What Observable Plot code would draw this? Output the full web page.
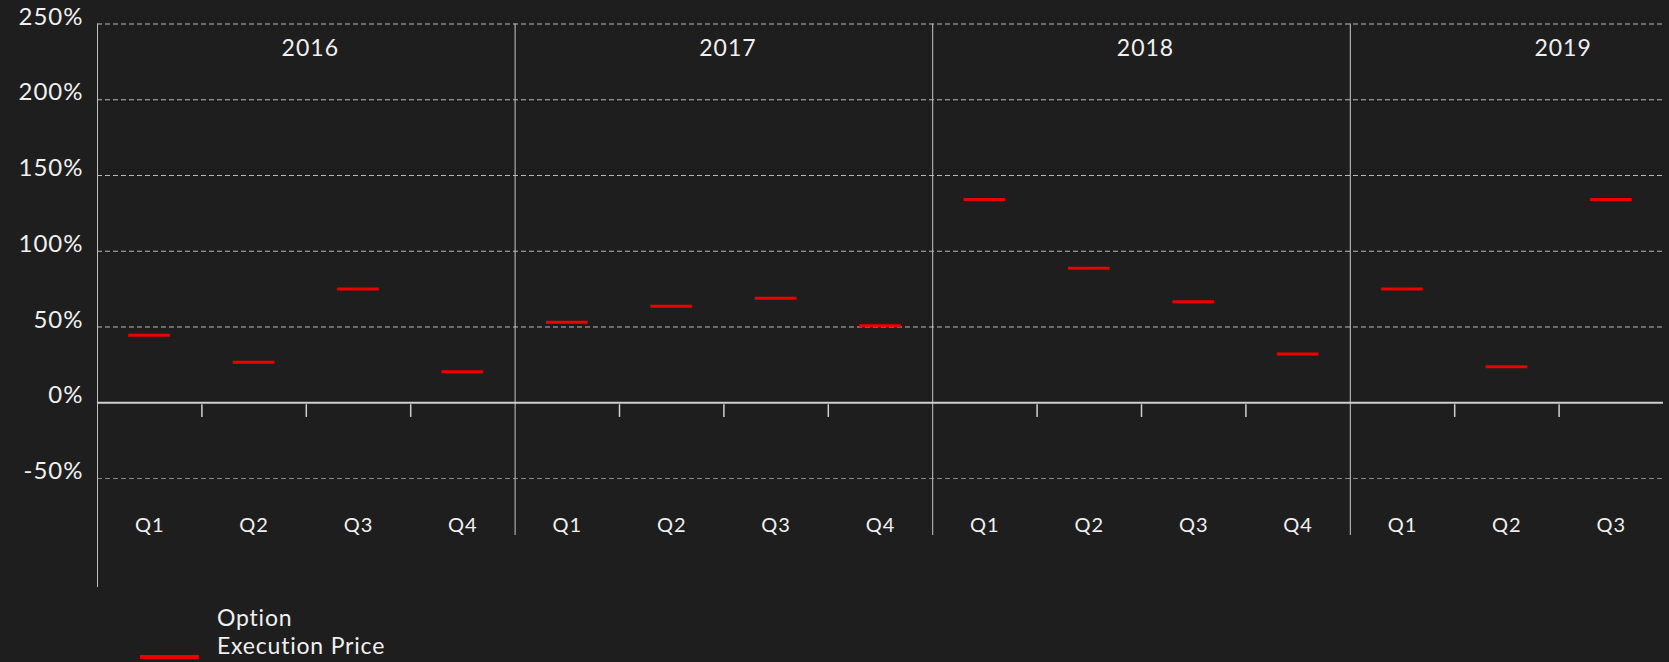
<!DOCTYPE html>
<html>
<head>
<meta charset="utf-8">
<script src="https://cdn.jsdelivr.net/npm/d3@7"></script>
<script src="https://cdn.jsdelivr.net/npm/@observablehq/plot@0.6"></script>
<style>
  html, body { margin: 0; padding: 0; background: #1e1e1e; }
  #chart { width: 1669px; }
  #legend { position: relative; width: 1669px; height: 62px; font-family: Lato, sans-serif; color: #f0f0f0; }
  #legend .swatch { position: absolute; left: 140px; top: 55px; width: 59px; height: 4px; background: #ee0000; }
  #legend .label { position: absolute; left: 217px; font-size: 23px; line-height: 28px; height: 28px; letter-spacing: 0.8px; white-space: nowrap; }
</style>
</head>
<body>
<div id="chart"></div>
<div id="legend"><div class="swatch"></div><div class="label" style="top:3px">Option</div><div class="label" style="top:31px">Execution Price</div></div>
<script>
// ---- data ----
const years = ["2016", "2017", "2018", "2019"];
const periodYears = ["2016","2016","2016","2016","2017","2017","2017","2017","2018","2018","2018","2018","2019","2019","2019"];
const periodQuarters = ["Q1","Q2","Q3","Q4","Q1","Q2","Q3","Q4","Q1","Q2","Q3","Q4","Q1","Q2","Q3"];
const executionPrice = [44.6, 26.8, 75.1, 20.4, 53.2, 63.7, 69.0, 50.9, 134.2, 88.7, 66.7, 32.1, 75.1, 23.7, 134.2];
const yTicks = [-50, 0, 50, 100, 150, 200, 250];
const seriesName = "Option Execution Price";

// ---- derived tables ----
const periods = periodYears.map((y, i) => ({i, year: y, quarter: periodQuarters[i], value: executionPrice[i]}));
const yearStart = years.map(y => periodYears.indexOf(y));
const dividers = yearStart.filter(i => i > 0);
const quarterTicks = periods.filter(p => p.i > 0 && periodYears[p.i - 1] === p.year).map(p => p.i);
const yMin = yTicks[0], yMax = yTicks[yTicks.length - 1];

const textColor = "#f0f0f0";
const chart = Plot.plot({
  width: 1669,
  height: 600,
  marginLeft: 97,
  marginRight: 6,
  marginTop: 23.5,
  marginBottom: 122,
  style: {background: "#1e1e1e", color: textColor, fontFamily: "Lato, sans-serif", letterSpacing: "1px"},
  x: {type: "linear", domain: [0, periods.length], axis: null},
  y: {domain: [yMin, yMax], axis: null},
  marks: [
    // gridlines
    Plot.ruleY(yTicks.filter(d => d > 0), {stroke: "#b8b8b8", strokeDasharray: "5,3", strokeWidth: 1}),
    Plot.ruleY(yTicks.filter(d => d < 0), {stroke: "#858585", strokeDasharray: "5,3", strokeWidth: 1}),
    // left axis line
    Plot.ruleX([0], {y1: yMax, y2: -122, stroke: "#bdbdbd", strokeWidth: 1}),
    // year dividers
    Plot.ruleX(dividers, {y1: yMax, y2: -87.6, stroke: "#c8c8c8", strokeWidth: 1}),
    // zero line
    Plot.ruleY([0], {stroke: "#d0d0d0", strokeWidth: 2}),
    // quarter ticks below zero line
    Plot.ruleX(quarterTicks, {y1: -1.3, y2: -9.7, stroke: "#cfcfcf", strokeWidth: 1.5}),
    // series
    Plot.ruleY(periods, {y: "value", x1: d => d.i + 0.3, x2: d => d.i + 0.7, stroke: "#ee0000", strokeWidth: 3, title: d => `${d.year} ${d.quarter}: ${d.value}% (${seriesName})`}),
    // quarter labels
    Plot.text(periods, {x: d => d.i + 0.5, y: -81, text: "quarter", fill: textColor, fontSize: 20}),
    // year labels
    Plot.text(years, {x: (d, k) => yearStart[k] + 2, y: 234, text: d => d, dx: 4, fill: textColor, fontSize: 23}),
    // y axis labels
    Plot.axisY(yTicks, {label: null, tickSize: 0, tickPadding: 14, tickFormat: d => d + "%", fontSize: 24, dy: -7, fill: textColor})
  ]
});
document.getElementById("chart").appendChild(chart);
</script>
</body>
</html>
